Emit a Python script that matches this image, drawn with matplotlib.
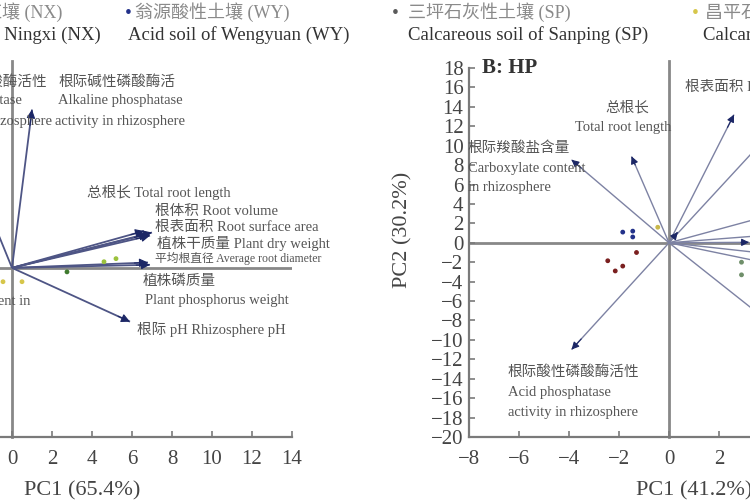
import matplotlib.pyplot as plt

plt.rcParams['font.family'] = ['Liberation Serif', 'Noto Sans CJK SC']
plt.rcParams['axes.unicode_minus'] = True

# legend entries (soil types)
soil_cn = ["宁溪红壤 (NX)", "翁源酸性土壤 (WY)", "三坪石灰性土壤 (SP)", "昌平石灰性土壤 (CP)"]
soil_en = ["Red soil of Ningxi (NX)", "Acid soil of Wengyuan (WY)",
           "Calcareous soil of Sanping (SP)", "Calcareous soil of Changping (CP)"]
soil_colors = ["#b23b3b", "#22318a", "#5a5a5a", "#d6c64a"]

# A panel: loadings (arrow tips) and sample scores
a_vars = ["Acid phosphatase", "Alkaline phosphatase", "Total root length", "Root volume",
          "Root surface area", "Plant dry weight", "Average root diameter",
          "Plant phosphorus weight", "Rhizosphere pH"]
a_pc1 = [-2.5, 1.0, 6.6, 6.8, 6.9, 7.0, 6.9, 6.8, 5.9]
a_pc2 = [8.0, 10.3, 2.4, 2.2, 2.1, 2.3, 0.2, 0.35, -3.5]
a_pts_x = [-0.45, 0.5, 4.6, 5.2, 2.75]
a_pts_y = [-0.9, -0.9, 0.4, 0.6, -0.26]
a_pts_c = ["#d6c64a", "#d6c64a", "#9bc23c", "#9bc23c", "#3f7a2e"]

# B panel (HP)
b_vars = ["Carboxylate", "Total root length", "Acid phosphatase", "Root surface area",
          "v5", "v6", "v7", "v8", "v9", "v10", "v11", "v12"]
b_pc1 = [-3.9, -1.5, -3.9, 2.6, 5.2, 6.0, 6.0, 3.2, 6.0, 6.0, 5.0, 0.35]
b_pc2 = [8.55, 8.9, -11.0, 13.2, 14.5, 4.2, 1.2, 0.05, -1.7, -3.2, -10.2, 1.1]
b_pts_x = [-1.85, -1.45, -1.45, -1.3, -2.45, -2.15, -1.85, -0.45, 2.9, 2.9]
b_pts_y = [1.1, 1.2, 0.6, -1.0, -1.85, -2.9, -2.4, 1.6, -2.0, -3.3]
b_pts_c = ["#22318a"] * 3 + ["#7a1f1f"] * 4 + ["#c9b84a"] + ["#6f8f6a"] * 2

head_c = "#1c2766"
txt_c = "#555555"
ax_c = "#7a7a7a"

fig = plt.figure(figsize=(7.5, 5), dpi=100)


def arrows(ax, xs, ys, line_c, lw, ms):
    for x, y in zip(xs, ys):
        ax.plot([0, x], [0, y], color=line_c, lw=lw, zorder=2, solid_capstyle='butt')
        # solid dark head: short segment near the tip
        ax.annotate("", xy=(x, y), xytext=(0.9 * x, 0.9 * y),
                    arrowprops=dict(arrowstyle='-|>', color=head_c, lw=0.8,
                                    mutation_scale=ms, shrinkA=0, shrinkB=0))


def base(ax):
    for s in ['top', 'right']:
        ax.spines[s].set_visible(False)
    for s in ['left', 'bottom']:
        ax.spines[s].set_color(ax_c)
        ax.spines[s].set_linewidth(1.6)
    ax.axhline(0, color="#888888", lw=2, zorder=1)
    ax.axvline(0, ymax=1.02, color="#888888", lw=2, zorder=1, clip_on=False)
    ax.tick_params(direction='in', colors=ax_c, labelcolor="#444444", labelsize=15,
                   length=4, width=1.2, pad=9)


# ---- panel A (mostly cut off on the left) ----
ax1 = fig.add_axes([-128 / 750, 63 / 500, 420 / 750, 369 / 500])
ax1.set_xlim(-7, 14)
ax1.set_ylim(-11, 13)
base(ax1)
ax1.set_xticks(range(-6, 15, 2))
ax1.set_yticks([])
ax1.set_xlabel("PC1 (65.4%)", fontsize=16, color="#444444", labelpad=9)
arrows(ax1, a_pc1, a_pc2, "#4e5585", 1.3, 13)
ax1.scatter(a_pts_x, a_pts_y, s=6, c=a_pts_c, zorder=3)

fs = 10.5
ax1.text(1.75, 12.1, "根际酸性磷酸酶活性", ha='right', va='center', fontsize=fs, color=txt_c)
ax1.text(0.5, 10.9, "Acid phosphatase", ha='right', va='center', fontsize=fs, color=txt_c)
ax1.text(2.0, 9.5, "activity in rhizosphere", ha='right', va='center', fontsize=fs, color=txt_c)
ax1.text(2.3, 12.1, "根际碱性磷酸酶活", va='center', fontsize=fs, color=txt_c)
ax1.text(2.3, 10.9, "Alkaline phosphatase", va='center', fontsize=fs, color=txt_c)
ax1.text(2.15, 9.5, "activity in rhizosphere", va='center', fontsize=fs, color=txt_c)
ax1.text(3.75, 4.9, "总根长 Total root length", va='center', fontsize=fs, color=txt_c)
ax1.text(7.15, 3.7, "根体积 Root volume", va='center', fontsize=fs, color=txt_c)
ax1.text(7.15, 2.6, "根表面积 Root surface area", va='center', fontsize=fs, color=txt_c)
ax1.text(7.25, 1.6, "植株干质量 Plant dry weight", va='center', fontsize=fs, color=txt_c)
ax1.text(7.15, 0.6, "平均根直径 Average root diameter", va='center', fontsize=8.5, color=txt_c)
ax1.text(6.55, -0.9, "植株磷质量", va='center', fontsize=fs, color=txt_c)
ax1.text(6.65, -2.1, "Plant phosphorus weight", va='center', fontsize=fs, color=txt_c)
ax1.text(6.25, -4.0, "根际 pH Rhizosphere pH", va='center', fontsize=fs, color=txt_c)
ax1.text(0.9, -2.2, "Carboxylate content in", ha='right', va='center', fontsize=fs, color=txt_c)

# ---- panel B: HP (cut off on the right) ----
ax2 = fig.add_axes([469 / 750, 63 / 500, 450 / 750, 369 / 500])
ax2.set_xlim(-8, 10)
ax2.set_ylim(-20, 18)
base(ax2)
ax2.set_xticks(range(-8, 11, 2))
ax2.set_yticks(range(-20, 19, 2))
ax2.tick_params(axis='y', pad=4)
ax2.set_xlabel("PC1 (41.2%)", fontsize=16, color="#444444", labelpad=9)
ax2.set_ylabel("PC2 (30.2%)", fontsize=16, color="#444444")
ax2.yaxis.set_label_coords(-0.125, 0.56)
arrows(ax2, b_pc1, b_pc2, "#7d82a3", 1.0, 11)
ax2.scatter(b_pts_x, b_pts_y, s=6, c=b_pts_c, zorder=3)

ax2.text(-7.5, 18.0, "B: HP", fontsize=15, fontweight='bold', color="#333333", va='center')
ax2.text(-1.65, 13.9, "总根长", ha='center', va='center', fontsize=fs, color=txt_c)
ax2.text(-1.85, 11.85, "Total root length", ha='center', va='center', fontsize=fs, color=txt_c)
ax2.text(-8.05, 9.8, "根际羧酸盐含量", va='center', fontsize=fs, color=txt_c)
ax2.text(-8.05, 7.7, "Carboxylate content", va='center', fontsize=fs, color=txt_c)
ax2.text(-8.05, 5.65, "in rhizosphere", va='center', fontsize=fs, color=txt_c)
ax2.text(0.65, 16.0, "根表面积 Root surface area", va='center', fontsize=fs, color=txt_c)
ax2.text(-6.45, -13.3, "根际酸性磷酸酶活性", va='center', fontsize=fs, color=txt_c)
ax2.text(-6.45, -15.45, "Acid phosphatase", va='center', fontsize=fs, color=txt_c)
ax2.text(-6.45, -17.5, "activity in rhizosphere", va='center', fontsize=fs, color=txt_c)

# ---- legend row along the top ----
mark_x = [None, 128, 395, 695]
cn_x = [62, 135, 408, 705]
en_x = [101, 128, 408, 703]
for i in range(4):
    ha = 'right' if i == 0 else 'left'
    if mark_x[i] is not None:
        fig.text(mark_x[i] / 750, 1 - 14 / 500, "•", color=soil_colors[i],
                 fontsize=14, ha='center', va='center')
    fig.text(cn_x[i] / 750, 1 - 12 / 500, soil_cn[i], ha=ha, va='center',
             fontsize=13, color="#8a8a8a")
    fig.text(en_x[i] / 750, 1 - 35 / 500, soil_en[i], ha=ha, va='center',
             fontsize=13.5, color="#333333")

fig.savefig("out.png", dpi=100)
